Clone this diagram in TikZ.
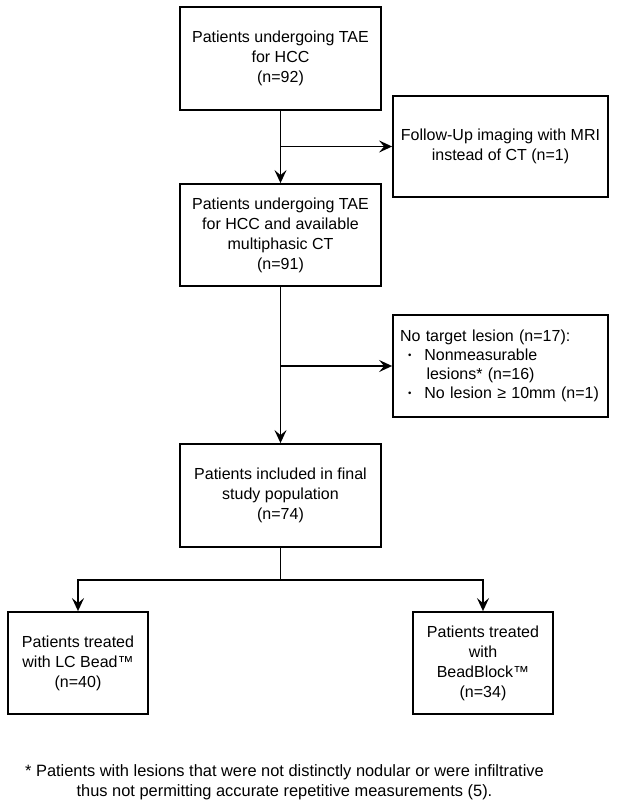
\documentclass[tikz,border=0pt]{standalone}
\usepackage{fontspec}
\setmainfont{Liberation Sans}
\usepackage{tikz}
\usetikzlibrary{arrows.meta, calc}

\newcommand{\bitem}[1]{\hspace*{8pt}\raisebox{0.25ex}{\scalebox{0.6}{\textbullet}}\hspace{13pt}#1}

\begin{document}
\begin{tikzpicture}[x=1pt, y=-1pt,
        box/.style={draw, line width=1.8pt, align=center, inner sep=0pt,
            font=\fontsize{16}{20}\selectfont},
        arr/.style={line width=1.8pt, -{Stealth[length=13pt, width=12pt, inset=5pt]}}]
        \useasboundingbox (0,0) rectangle (616,806);

        % main column
        \node[box, minimum width=201pt, minimum height=103pt] (start) at (280.5,58.5)
            {Patients undergoing TAE\\for HCC\\(n=92)};
        \node[box, minimum width=201pt, minimum height=102pt] (ct) at (280.5,235)
            {Patients undergoing TAE\\for HCC and available\\multiphasic CT\\(n=91)};
        \node[box, minimum width=201pt, minimum height=103pt] (final) at (280.5,495.5)
            {Patients included in final\\study population\\(n=74)};

        % exclusions
        \node[box, minimum width=215pt, minimum height=101pt] (mri) at (500.5,146.5)
            {Follow-Up imaging with MRI\\instead of CT (n=1)};
        \node[box, align=left, minimum width=215pt, minimum height=102pt,
            text width=201pt, font=\fontsize{16}{19}\selectfont] (nolesion) at (500.5,366)
            {No target lesion (n=17):\\
             \bitem{Nonmeasurable}\\
             \hspace*{26.5pt}lesions* (n=16)\\
             \bitem{No lesion ≥ 10mm (n=1)}};

        % groups
        \node[box, minimum width=140pt, minimum height=102pt] (lcbead) at (78,663)
            {Patients treated\\with LC Bead™\\(n=40)};
        \node[box, minimum width=140pt, minimum height=102pt] (beadblock) at (483,663)
            {Patients treated\\with\\BeadBlock™\\(n=34)};

        \coordinate (b1) at (start.south |- mri.west);
        \coordinate (b2) at (ct.south |- nolesion.west);
        \coordinate (fork) at ($(final.south)+(0,32)$);

        \draw[arr] (start) -- (ct);
        \draw[arr] (b1) -- (mri);
        \draw[arr] (ct) -- (final);
        \draw[arr] (b2) -- (nolesion);
        \draw[line width=1.8pt] (final) -- (fork);
        \draw[arr] (fork) -| (lcbead);
        \draw[arr] (fork) -| (beadblock);

        \node[align=center, font=\fontsize{16.4}{20}\selectfont] (note) at (284.5,782)
            {* Patients with lesions that were not distinctly nodular or were infiltrative\\
             thus not permitting accurate repetitive measurements (5).};

    \end{tikzpicture}
\end{document}
